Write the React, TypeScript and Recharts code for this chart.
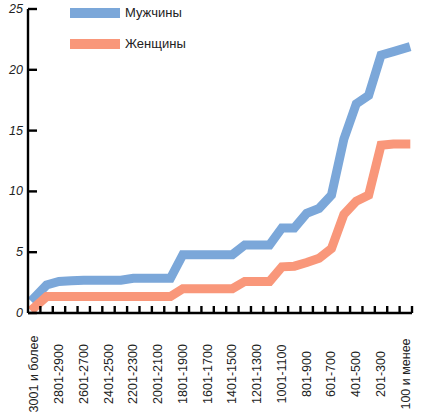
import React from 'react';
import { LineChart, Line, XAxis, YAxis, Legend } from 'recharts';

const categories = [
  '3001 и более', '2901-3000', '2801-2900', '2701-2800', '2601-2700', '2501-2600',
  '2401-2500', '2301-2400', '2201-2300', '2101-2200', '2001-2100', '1901-2000',
  '1801-1900', '1701-1800', '1601-1700', '1501-1600', '1401-1500', '1301-1400',
  '1201-1300', '1101-1200', '1001-1100', '901-1000', '801-900', '701-800',
  '601-700', '501-600', '401-500', '301-400', '201-300', '101-200', '100 и менее',
];

const menValues = [
  1.25, 2.3, 2.6, 2.65, 2.7, 2.7, 2.7, 2.7, 2.85, 2.85, 2.85, 2.85,
  4.8, 4.8, 4.8, 4.8, 4.8, 5.6, 5.6, 5.6, 7.0, 7.0, 8.2, 8.6,
  9.7, 14.3, 17.2, 17.9, 21.2, 21.5, 21.8,
];

const womenValues = [
  0.45, 1.35, 1.35, 1.35, 1.35, 1.35, 1.35, 1.35, 1.35, 1.35, 1.35, 1.35,
  2.0, 2.0, 2.0, 2.0, 2.0, 2.6, 2.6, 2.6, 3.8, 3.85, 4.15, 4.5,
  5.3, 8.1, 9.2, 9.7, 13.8, 13.9, 13.9,
];

const yTicks = [0, 5, 10, 15, 20, 25];

const seriesOrder = ['Мужчины', 'Женщины'];
const seriesNames = { men: 'Мужчины', women: 'Женщины' };
const seriesColors = { men: '#7BA7D9', women: '#F9977A' };

const W = 426;
const H = 416;
const MARGIN = { top: 9, right: 14, left: 0, bottom: 0 };
const Y_AXIS_W = 28;
const X_AXIS_H = 103;
const PLOT_LEFT = MARGIN.left + Y_AXIS_W;
const PLOT_W = W - PLOT_LEFT - MARGIN.right;
const PLOT_BOTTOM = H - MARGIN.bottom - X_AXIS_H;
const HALF_BAND = PLOT_W / categories.length / 2;
const FONT = '"Liberation Sans", Arial, sans-serif';

const data = categories.map((c, i) => ({
  category: c,
  men: menValues[i],
  women: womenValues[i],
}));

function XTick(props: any) {
  const { x, payload, index } = props;
  const cx = payload && typeof payload.coordinate === 'number' ? payload.coordinate : x;
  return (
    <g>
      <line
        x1={cx + HALF_BAND}
        x2={cx + HALF_BAND}
        y1={PLOT_BOTTOM}
        y2={PLOT_BOTTOM - 7}
        stroke="#000"
        strokeWidth={2.4}
      />
      {index % 2 === 0 && (
        <text
          transform={`translate(${cx},374) rotate(-90)`}
          textAnchor="middle"
          dominantBaseline="central"
          fontFamily={FONT}
          fontSize={12.5}
          fill="#222"
        >
          {payload.value}
        </text>
      )}
    </g>
  );
}

function YTick(props: any) {
  const { y, payload } = props;
  return (
    <g>
      <line x1={PLOT_LEFT} x2={PLOT_LEFT + 9} y1={y} y2={y} stroke="#000" strokeWidth={2.4} />
      <text
        x={PLOT_LEFT - 5}
        y={y}
        textAnchor="end"
        dominantBaseline="central"
        fontFamily={FONT}
        fontStyle="italic"
        fontSize={12.5}
        fill="#222"
      >
        {payload.value}
      </text>
    </g>
  );
}

function renderLegend(props: any) {
  const items = [...(props.payload || [])].sort(
    (a: any, b: any) => seriesOrder.indexOf(a.value) - seriesOrder.indexOf(b.value)
  );
  return (
    <div>
      {items.map((entry: any, i: number) => (
        <div
          key={i}
          style={{ display: 'flex', alignItems: 'center', height: 10, marginBottom: i === 0 ? 21 : 0 }}
        >
          <div style={{ width: 50, height: 10, background: entry.color }} />
          <span
            style={{
              marginLeft: 5,
              fontSize: 13,
              fontFamily: FONT,
              color: '#222',
              lineHeight: '10px',
              whiteSpace: 'nowrap',
            }}
          >
            {entry.value}
          </span>
        </div>
      ))}
    </div>
  );
}

export default function App() {
  return (
    <div style={{ position: 'absolute', left: 0, top: 0, width: W, height: H }}>
      <LineChart width={W} height={H} data={data} margin={MARGIN}>
        <XAxis
          dataKey="category"
          scale="band"
          interval={0}
          height={X_AXIS_H}
          tick={<XTick />}
          tickLine={false}
          axisLine={{ stroke: '#000', strokeWidth: 2.4 }}
        />
        <YAxis
          domain={[0, 25]}
          ticks={yTicks}
          interval={0}
          width={Y_AXIS_W}
          tick={<YTick />}
          tickLine={false}
          axisLine={{ stroke: '#000', strokeWidth: 2.4 }}
        />
        <Legend
          layout="vertical"
          align="center"
          verticalAlign="middle"
          wrapperStyle={{ left: 70, top: 8, width: 'auto', height: 'auto' }}
          content={renderLegend}
        />
        <Line
          dataKey="men"
          name={seriesNames.men}
          stroke={seriesColors.men}
          strokeWidth={9}
          strokeLinecap="square"
          strokeLinejoin="miter"
          dot={false}
          activeDot={false}
          isAnimationActive={false}
        />
        <Line
          dataKey="women"
          name={seriesNames.women}
          stroke={seriesColors.women}
          strokeWidth={9}
          strokeLinecap="square"
          strokeLinejoin="miter"
          dot={false}
          activeDot={false}
          isAnimationActive={false}
        />
      </LineChart>
    </div>
  );
}
